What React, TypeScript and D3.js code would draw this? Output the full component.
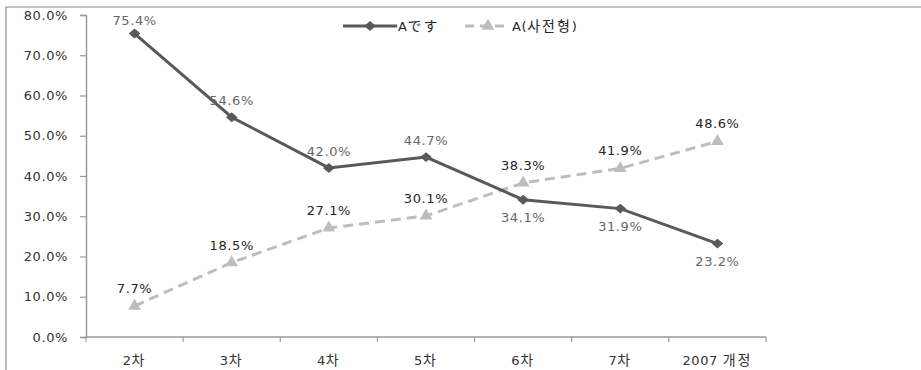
import React, { useEffect, useRef } from "react";
import * as d3 from "d3";

const categories = ["2차", "3차", "4차", "5차", "6차", "7차", "2007 개정"];
const seriesNames = ["Aです", "A(사전형)"];
const seriesA = [0.754, 0.546, 0.42, 0.447, 0.341, 0.319, 0.232];
const seriesB = [0.077, 0.185, 0.271, 0.301, 0.383, 0.419, 0.486];
const labelBelowA = [false, false, false, false, true, true, true];
const yTicks = [0, 0.1, 0.2, 0.3, 0.4, 0.5, 0.6, 0.7, 0.8];

const W = 921;
const H = 370;
const FONT = "'DejaVu Sans', Verdana, sans-serif";
const CJK = "'Noto Sans CJK KR', 'Noto Sans CJK JP', sans-serif";
const FS = 13;
const LS = 0.6;

// split latin / cjk runs so the wide cjk glyphs get their own size
function fillText(sel: any, str: string) {
  const parts = str.split(/([\u3040-\u30ff\uac00-\ud7af]+)/).filter((p) => p !== "");
  parts.forEach((p) => {
    const isCjk = /[\u3040-\u30ff\uac00-\ud7af]/.test(p);
    sel
      .append("tspan")
      .attr("font-family", isCjk ? CJK : FONT)
      .attr("font-size", isCjk ? 14 : FS)
      .attr("letter-spacing", isCjk ? 2 : LS)
      .text(p);
  });
}

export default function App() {
  const ref = useRef<SVGSVGElement>(null);

  useEffect(() => {
    const svg = d3.select(ref.current);
    svg.selectAll("*").remove();

    const margin = { top: 15, right: 155, bottom: 33, left: 86 };
    const x = d3
      .scaleBand()
      .domain(categories)
      .range([margin.left, W - margin.right]);
    const y = d3
      .scaleLinear()
      .domain([0, 0.8])
      .range([H - margin.bottom, margin.top]);
    const cx = (c: string) => (x(c) as number) + x.bandwidth() / 2;

    // outer frame (cropped)
    svg
      .append("path")
      .attr("d", `M6,${H} L6,7 L${W},7`)
      .attr("fill", "none")
      .attr("stroke", "#8c8c8c")
      .attr("stroke-width", 1.2);

    // y axis
    const yAxis = svg
      .append("g")
      .attr("transform", `translate(${margin.left},0)`)
      .call(
        d3
          .axisLeft(y)
          .tickValues(yTicks)
          .tickSize(6)
          .tickPadding(12)
          .tickFormat(d3.format(".1%"))
      );
    yAxis.select(".domain").attr("stroke", "#9a9a9a").attr("stroke-width", 1.5);
    yAxis.selectAll(".tick line").attr("stroke", "#9a9a9a").attr("stroke-width", 1.2);
    yAxis
      .selectAll("text")
      .attr("font-family", FONT)
      .attr("font-size", FS)
      .attr("letter-spacing", LS)
      .attr("fill", "#333");

    // x axis
    const x0 = y(0);
    svg
      .append("line")
      .attr("x1", margin.left)
      .attr("x2", W - margin.right)
      .attr("y1", x0)
      .attr("y2", x0)
      .attr("stroke", "#9a9a9a")
      .attr("stroke-width", 1.5);
    const bounds = categories.map((c) => x(c) as number).concat([W - margin.right]);
    svg
      .selectAll(".xtick")
      .data(bounds)
      .join("line")
      .attr("class", "xtick")
      .attr("x1", (d) => d)
      .attr("x2", (d) => d)
      .attr("y1", x0)
      .attr("y2", x0 + 5)
      .attr("stroke", "#9a9a9a")
      .attr("stroke-width", 1.2);
    svg
      .selectAll(".xlabel")
      .data(categories)
      .join("text")
      .attr("class", "xlabel")
      .attr("x", (d) => cx(d))
      .attr("y", x0 + 28)
      .attr("text-anchor", "middle")
      .attr("fill", "#333")
      .each(function (d) {
        fillText(d3.select(this), d);
      });

    const line = d3
      .line<number>()
      .x((d, i) => cx(categories[i]))
      .y((d) => y(d));

    // series B (dashed, triangles)
    svg
      .append("path")
      .datum(seriesB)
      .attr("d", line)
      .attr("fill", "none")
      .attr("stroke", "#bdbdbd")
      .attr("stroke-width", 3)
      .attr("stroke-dasharray", "10,6");
    const tri = d3.symbol().type(d3.symbolTriangle).size(70);
    svg
      .selectAll(".mB")
      .data(seriesB)
      .join("path")
      .attr("class", "mB")
      .attr("d", tri)
      .attr("transform", (d, i) => `translate(${cx(categories[i])},${y(d)})`)
      .attr("fill", "#bdbdbd");

    // series A (solid, diamonds) - square turned 45deg, a bit flattened
    svg
      .append("path")
      .datum(seriesA)
      .attr("d", line)
      .attr("fill", "none")
      .attr("stroke", "#595959")
      .attr("stroke-width", 3);
    const dia = d3.symbol().type(d3.symbolSquare).size(68);
    svg
      .selectAll(".mA")
      .data(seriesA)
      .join("path")
      .attr("class", "mA")
      .attr("d", dia)
      .attr(
        "transform",
        (d, i) => `translate(${cx(categories[i])},${y(d)}) scale(1,0.85) rotate(45)`
      )
      .attr("fill", "#595959");

    const fmt = d3.format(".1%");
    svg
      .selectAll(".lA")
      .data(seriesA)
      .join("text")
      .attr("class", "lA")
      .attr("x", (d, i) => cx(categories[i]))
      .attr("y", (d, i) => (i === 0 ? y(d) - 9 : y(d) + (labelBelowA[i] ? 22 : -12)))
      .attr("text-anchor", "middle")
      .attr("font-family", FONT)
      .attr("font-size", FS)
      .attr("letter-spacing", LS)
      .attr("fill", "#666")
      .text((d) => fmt(d));
    svg
      .selectAll(".lB")
      .data(seriesB)
      .join("text")
      .attr("class", "lB")
      .attr("x", (d, i) => cx(categories[i]))
      .attr("y", (d) => y(d) - 13)
      .attr("text-anchor", "middle")
      .attr("font-family", FONT)
      .attr("font-size", FS)
      .attr("letter-spacing", LS)
      .attr("fill", "#262626")
      .text((d) => fmt(d));

    // legend
    const lg = svg.append("g").attr("transform", "translate(0,26)");
    lg.append("line")
      .attr("x1", 343).attr("x2", 397).attr("y1", 0).attr("y2", 0)
      .attr("stroke", "#595959").attr("stroke-width", 3);
    lg.append("path")
      .attr("d", dia)
      .attr("transform", "translate(370,0) scale(1,0.85) rotate(45)")
      .attr("fill", "#595959");
    lg.append("text")
      .attr("x", 398).attr("y", 5)
      .attr("fill", "#262626")
      .call(fillText, seriesNames[0]);
    lg.append("line")
      .attr("x1", 465).attr("x2", 510).attr("y1", 0).attr("y2", 0)
      .attr("stroke", "#bdbdbd").attr("stroke-width", 3)
      .attr("stroke-dasharray", "9,6");
    lg.append("path").attr("d", tri).attr("transform", "translate(488,0)").attr("fill", "#bdbdbd");
    lg.append("text")
      .attr("x", 512).attr("y", 5)
      .attr("fill", "#262626")
      .call(fillText, seriesNames[1]);
  }, []);

  return (
    <svg
      ref={ref}
      width={W}
      height={H}
      style={{ position: "absolute", left: 0, top: 0, background: "#fff" }}
    />
  );
}
